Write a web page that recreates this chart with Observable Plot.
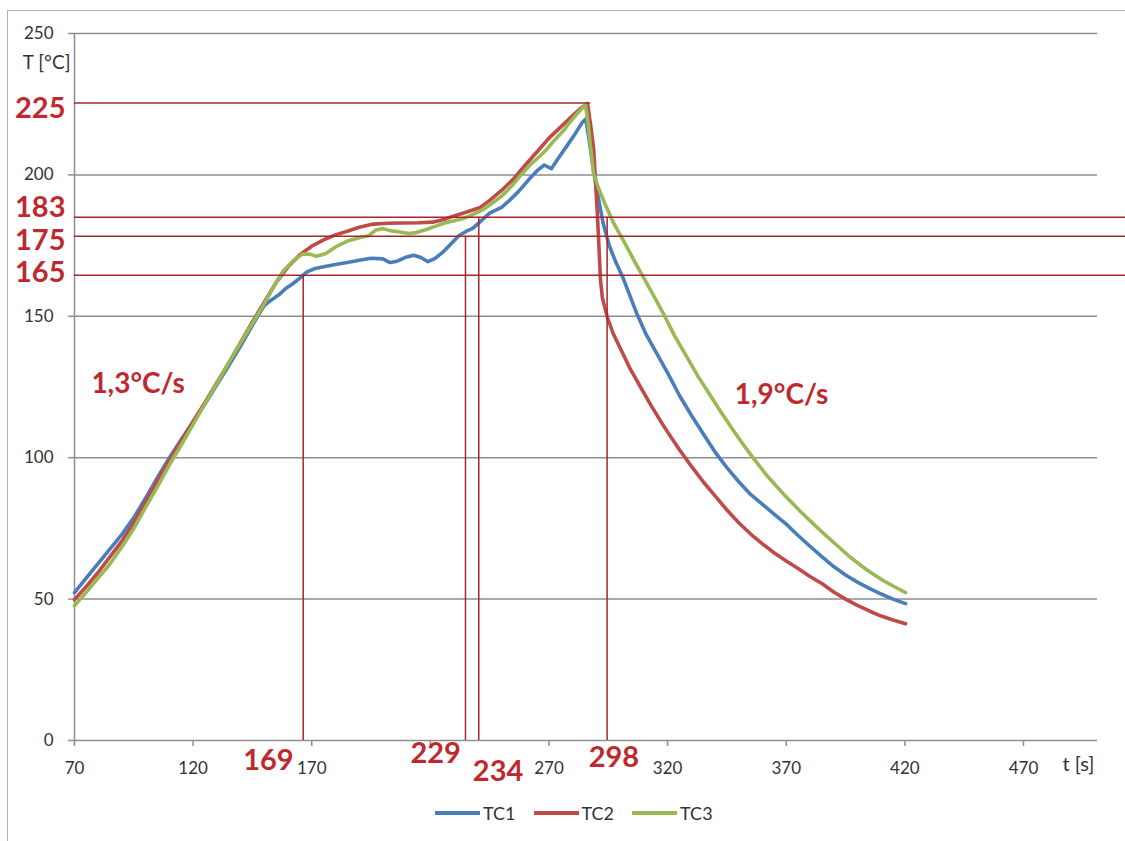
<!DOCTYPE html>
<html><head><meta charset="utf-8">
<script src="https://cdn.jsdelivr.net/npm/d3@7"></script>
<script src="https://cdn.jsdelivr.net/npm/@observablehq/plot@0.6"></script>
<style>
html,body{margin:0;padding:0;background:#fff;overflow:hidden;width:1125px;height:841px;}
#wrap{position:relative;width:1125px;height:841px;overflow:hidden;}
#border{position:absolute;left:7px;top:10px;width:1200px;height:900px;border:1.5px solid #b3b3b3;box-sizing:border-box;}
#chart{position:absolute;left:0;top:0;}
#legend{position:absolute;left:435px;top:802px;height:22px;display:flex;align-items:center;font-family:Lato,sans-serif;font-size:18px;color:#333;}
#legend .item{display:flex;align-items:center;margin-right:18px;}
#legend .sw{width:45px;height:4px;margin-right:3px;}
</style></head>
<body><div id="wrap"><div id="border"></div><div id="chart"></div><div id="legend"></div></div>
<script>
// ---- data ----
const seriesNames = ["TC1", "TC2", "TC3"];
const tc1 = [[70,52.3],[75,57.5],[80,62.6],[85,67.8],[90,72.9],[95,78.8],[100,85.8],[105,93],[110,100],[115,106.4],[120,112.6],[125,119],[130,125.8],[135,132.5],[140,139.5],[145,146.8],[148,151.2],[150,153.8],[153,155.8],[156,157.5],[159,159.8],[162,161.5],[165,163.5],[168,165.7],[171,166.8],[175,167.5],[180,168.3],[185,169],[190,169.8],[195,170.5],[200,170.3],[203,169],[206,169.5],[210,171],[213,171.6],[216,170.8],[219,169.3],[222,170.5],[225,172.5],[228,175],[232,178.5],[235,180],[238,181.2],[241,183.5],[245,186.5],[250,188.5],[253,190.7],[257,194],[262,198.8],[265,201.5],[268,203.5],[271,202.2],[274,206],[278,210.8],[281,214.5],[284,218.5],[285.5,219.8],[287,212],[288.5,203],[290,195.5],[292.8,183],[295.4,175],[298,169.5],[301,164],[304,157.5],[307,151],[311,143.5],[315,137.5],[320,130],[325,122],[330,115],[335,108.5],[340,102],[345,96.5],[350,91.5],[355,87],[360,83.5],[365,80],[370,76.5],[375,72.5],[380,68.7],[385,65],[390,61.5],[395,58.5],[400,56],[405,53.8],[410,51.8],[415,50],[420.3,48.4]];
const tc2 = [[70,49.8],[75,54.5],[80,59.5],[85,65],[90,70.5],[95,77],[100,84.5],[105,91.8],[110,99],[115,106],[120,112.8],[125,119.5],[130,126.5],[135,133.5],[140,140.8],[145,148],[150,155],[155,162],[160,167.5],[165,171.8],[170,174.8],[175,177],[180,178.8],[185,180.1],[190,181.5],[196,182.6],[202,182.9],[208,183],[215,183.1],[221,183.3],[226,184.3],[230,185.5],[235,186.8],[241,188.5],[245,191],[250,194.5],[255,198.5],[260,203.5],[265,208.2],[270,213],[275,217],[280,221],[283,223.3],[286.2,225.3],[287.5,218],[288.8,209.4],[289.6,198],[290.4,186.1],[291.2,172],[291.7,163],[292.5,156.5],[294.7,149.4],[297,144],[300,138.8],[304,131.8],[308,125.8],[313,118.5],[317,113],[321,107.8],[325,102.8],[330,97],[335,91.5],[340,86.5],[345,81.5],[350,77],[355,73],[360,69.5],[365,66.3],[370,63.5],[375,60.8],[380,58],[385,55.5],[390,52.5],[395,50],[400,47.8],[405,45.8],[410,44],[415,42.6],[420.3,41.3]];
const tc3 = [[70,47.7],[75,52.5],[80,57.5],[85,62.5],[90,68.5],[95,75],[100,82.5],[105,89.8],[110,97.5],[115,104.5],[120,111.8],[125,119],[130,126.3],[135,133.5],[140,140.6],[145,147.5],[150,154.5],[155,162],[158,166],[162,169.5],[166,172],[169,172],[172,171.2],[176,172.2],[180,174.5],[185,176.6],[190,177.8],[194,178.5],[197,180.5],[200,181],[203,180.3],[207,179.8],[211,179.3],[214,179.6],[218,180.6],[222,181.8],[226,183],[230,183.8],[234,184.6],[238,186],[242,187.6],[246,190],[250,192.5],[254,195.8],[258,199.8],[262,203.5],[266,206.5],[269,209],[272,212],[276,215.5],[279,218.9],[282,221.8],[285.4,224.9],[286.5,218],[287.5,210],[288.8,200.5],[291,195],[294,189],[297.2,183],[302.2,175.5],[306,169.5],[310,163.5],[314,157.5],[318.5,150.5],[323,143],[328.4,135.2],[333,128.5],[337,123.3],[342,116.8],[347.8,109.5],[352,104.5],[356,100],[362,93.5],[368.8,87.2],[376,81],[383.2,75.2],[390,70],[397,64.8],[404,60.3],[411,56.5],[416,54.2],[420.3,52.3]];

const xTicks = [70, 120, 170, 220, 270, 320, 370, 420, 470];
const xTickLabels = ["70", "120", "170", "", "270", "320", "370", "420", "470"];
const yTicks = [0, 50, 100, 150, 200, 250];
const xMax = 501.2;

// reference lines drawn on the chart
const hRefT = [225.4, 185, 178.3, 164.5];
const hRefEnd = [287.5, 513, 513, 513];
const hRefLabels = ["225", "183", "175", "165"];
const hRefLabelValues = [225, 183, 175, 165];
const vRefT = [166.4, 234.8, 240.4, 294.5];
const vRefTop = [164.5, 178.3, 185, 185];
const vRefLabels = ["169", "229", "234", "298"];
const vRefLabelValues = [169, 229, 234, 298];
const rateLabels = ["1,3°C/s", "1,9°C/s"];

// ---- styling ----
const colors = ["#4a7ebb", "#be4b48", "#98b954"];
const refColor = "#a3272c";
const labelRed = "#c0282f";
const gridColor = "#8e8e8e";

const rows = [tc1, tc2, tc3].map(s => s.map(([t, T]) => ({t, T})));
const hRefs = hRefT.map((T, i) => ({T, t2: hRefEnd[i]}));
const vRefs = vRefT.map((t, i) => ({t, top: vRefTop[i]}));

const hLabelDy = [4.5, -15.5, -5, -1.5];
const vLabelDx = [-41, -16, 34.5, -1.5];
const vLabelDy = [29, 22, 40, 26];

const marks = [
  Plot.ruleY(yTicks.slice(1), {x1: 70, x2: xMax, stroke: gridColor, strokeWidth: 1.5}),
  Plot.ruleY([0], {x1: 70, x2: xMax, stroke: gridColor, strokeWidth: 1.5}),
  Plot.ruleX([70], {y1: 0, y2: 250, stroke: gridColor, strokeWidth: 1.5}),
  Plot.axisY({ticks: yTicks, tickSize: 6, tickPadding: 15, stroke: gridColor, strokeWidth: 1.5, fill: "#333", label: null, tickFormat: d => String(d), fontSize: 17}),
  Plot.axisX({ticks: xTicks, tickSize: 6, tickPadding: 15, stroke: gridColor, strokeWidth: 1.5, fill: "#333", label: null, tickFormat: d => xTickLabels[xTicks.indexOf(d)], fontSize: 17}),
  ...rows.map((r, i) => Plot.line(r, {x: "t", y: "T", stroke: colors[i], strokeWidth: 3.6, strokeLinejoin: "round", curve: "linear"})),
  Plot.ruleY(hRefs, {y: "T", x1: 70, x2: "t2", stroke: refColor, strokeWidth: 1.5}),
  Plot.ruleX(vRefs, {x: "t", y1: 0, y2: "top", stroke: refColor, strokeWidth: 1.5}),
  ...hRefLabels.map((l, i) => Plot.text([l], {x: 70, y: hRefLabelValues[i], text: d => d, dx: -9, dy: hLabelDy[i], textAnchor: "end", fontSize: 29, fontWeight: "bold", fill: labelRed})),
  ...vRefLabels.map((l, i) => Plot.text([l], {x: vRefLabelValues[i], text: d => d, frameAnchor: "bottom", dx: vLabelDx[i], dy: vLabelDy[i], fontSize: 29, fontWeight: "bold", fill: labelRed})),
  Plot.text([rateLabels[0]], {x: 96.8, y: 126, text: d => d, fontSize: 28, fontWeight: "bold", fill: labelRed}),
  Plot.text([rateLabels[1]], {x: 368, y: 122, text: d => d, fontSize: 28, fontWeight: "bold", fill: labelRed}),
  Plot.text(["T [°C]"], {frameAnchor: "top-left", dx: -4, dy: 22, textAnchor: "end", fontSize: 19, fill: "#333"}),
  Plot.text(["t [s]"], {frameAnchor: "bottom-right", dx: -3, dy: 30, textAnchor: "end", fontSize: 20, fill: "#333"})
];

const chart = Plot.plot({
  width: 1125, height: 790,
  marginLeft: 74, marginRight: 28, marginTop: 33, marginBottom: 50,
  x: {domain: [70, xMax]},
  y: {domain: [0, 250]},
  style: {fontFamily: "Lato, sans-serif", fontSize: "17px", background: "transparent", overflow: "visible"},
  marks
});
document.getElementById("chart").appendChild(chart);

const legend = document.getElementById("legend");
seriesNames.forEach((n, i) => {
  const it = document.createElement("div");
  it.className = "item";
  it.innerHTML = `<div class="sw" style="background:${colors[i]}"></div><span>${n}</span>`;
  legend.appendChild(it);
});
</script></body></html>
